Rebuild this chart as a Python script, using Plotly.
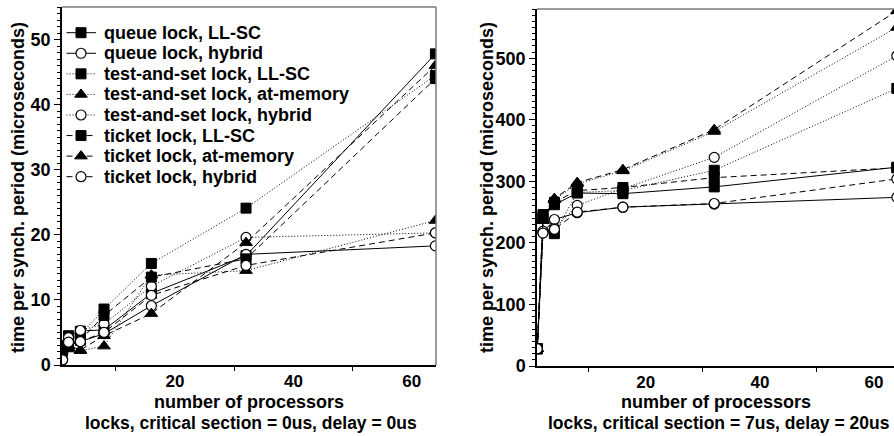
import plotly.graph_objects as go

W, H = 894, 436

procs = [1, 2, 4, 8, 16, 32, 64]

names = [
    "queue lock, LL-SC",
    "queue lock, hybrid",
    "test-and-set lock, LL-SC",
    "test-and-set lock, at-memory",
    "test-and-set lock, hybrid",
    "ticket lock, LL-SC",
    "ticket lock, at-memory",
    "ticket lock, hybrid",
]

# left panel: critical section = 0us, delay = 0us
left_queue_llsc = [2.5, 4.5, 5.2, 5.4, 11.0, 16.8, 47.8]
left_queue_hyb = [0.8, 3.4, 3.6, 4.8, 9.1, 17.0, 18.3]
left_tas_llsc = [2.3, 4.0, 4.6, 8.6, 15.6, 24.1, 44.5]
left_tas_atm = [3.0, 2.6, 2.2, 2.9, 13.8, 14.5, 22.2]
left_tas_hyb = [0.9, 4.2, 5.3, 6.3, 12.1, 19.6, 20.3]
left_ticket_llsc = [2.2, 2.8, 3.8, 7.6, 13.5, 16.3, 44.0]
left_ticket_atm = [2.8, 3.0, 2.3, 4.5, 7.9, 18.8, 46.0]
left_ticket_hyb = [0.8, 3.5, 3.6, 5.0, 10.7, 15.3, 20.3]

# right panel: critical section = 7us, delay = 20us
right_queue_llsc = [28, 242, 262, 281, 280, 291, 323]
right_queue_hyb = [28, 217, 238, 249, 258, 263, 274]
right_tas_llsc = [28, 246, 215, 282, 285, 318, 451]
right_tas_atm = [28, 236, 270, 296, 317, 381, 550]
right_tas_hyb = [28, 219, 223, 261, 288, 339, 504]
right_ticket_llsc = [28, 240, 266, 285, 290, 306, 322]
right_ticket_atm = [28, 238, 272, 298, 319, 384, 577]
right_ticket_hyb = [28, 216, 222, 250, 258, 264, 304]

left_series = [left_queue_llsc, left_queue_hyb, left_tas_llsc, left_tas_atm,
               left_tas_hyb, left_ticket_llsc, left_ticket_atm, left_ticket_hyb]
right_series = [right_queue_llsc, right_queue_hyb, right_tas_llsc, right_tas_atm,
                right_tas_hyb, right_ticket_llsc, right_ticket_atm, right_ticket_hyb]

SOLID, DOT, DASH = "solid", "1px,2px", "6px,4px"
dashes = [SOLID, SOLID, DOT, DOT, DOT, DASH, DASH, DASH]
SQ = dict(symbol="square", size=10, color="black", line=dict(color="black", width=1))
TR = dict(symbol="triangle-up", size=11, color="black", line=dict(color="black", width=1))
CI = dict(symbol="circle", size=10, color="white", line=dict(color="black", width=1.2))
markers = [SQ, CI, SQ, TR, CI, SQ, TR, CI]

FONT = "Liberation Sans, Arial, Helvetica, sans-serif"

fig = go.Figure()
for i in range(8):
    fig.add_trace(go.Scatter(
        x=procs, y=left_series[i], name=names[i], mode="lines+markers",
        line=dict(color="black", width=1, dash=dashes[i]),
        marker=markers[i], xaxis="x", yaxis="y", showlegend=False))
for i in range(8):
    fig.add_trace(go.Scatter(
        x=procs, y=right_series[i], name=names[i], mode="lines+markers",
        line=dict(color="black", width=1, dash=dashes[i]),
        marker=markers[i], xaxis="x2", yaxis="y2", showlegend=False))

# legend keys, drawn on a hidden pixel-space overlay axis pair
LEG_X0, LEG_XM, LEG_X1 = 66.5, 81, 96
LEG_Y0, LEG_DY = 32.7, 20.57
for i in range(8):
    yy = LEG_Y0 + i * LEG_DY
    fig.add_trace(go.Scatter(
        x=[LEG_X0, LEG_X1], y=[yy, yy], mode="lines",
        line=dict(color="black", width=1, dash=dashes[i]),
        xaxis="x3", yaxis="y3", showlegend=False, hoverinfo="skip", cliponaxis=False))
    fig.add_trace(go.Scatter(
        x=[LEG_XM], y=[yy], mode="markers", marker=markers[i],
        xaxis="x3", yaxis="y3", showlegend=False, hoverinfo="skip", cliponaxis=False))

def px(x):
    return x / W

def py(y):
    return 1 - y / H

xtickfont = dict(family=FONT, size=17, color="black", weight=700)
ytickfont = dict(family=FONT, size=18, color="black", weight=700)

xcommon = dict(
    automargin=False,
    showgrid=False, zeroline=False, showline=True, linecolor="black", linewidth=1.5,
    tickmode="linear", tick0=0, dtick=20, ticks="outside", ticklen=0,
    tickfont=xtickfont,
    minor=dict(tickmode="linear", tick0=0, dtick=10, ticks="outside", ticklen=4,
               tickcolor="black", tickwidth=1),
)
ycommon = dict(
    automargin=False,
    showgrid=False, zeroline=False, showline=True, linecolor="black", linewidth=1.5,
    ticks="outside", ticklen=6, tickcolor="black", tickwidth=1.2, tickfont=ytickfont,
    tickmode="linear", tick0=0,
)

fig.update_layout(
    width=W, height=H,
    margin=dict(l=0, r=0, t=0, b=0, autoexpand=False),
    paper_bgcolor="white", plot_bgcolor="rgba(0,0,0,0)",
    xaxis=dict(domain=[px(62), px(436)], range=[0.9, 64.1], anchor="y", **xcommon),
    yaxis=dict(domain=[py(365), py(7)], range=[0, 55], anchor="x", dtick=10,
               minor=dict(tickmode="linear", tick0=0, dtick=1, ticks="outside",
                          ticklen=3, tickcolor="black", tickwidth=1),
               **ycommon),
    xaxis2=dict(domain=[px(537), 1.0], range=[0.95, 63.5], anchor="y2", **xcommon),
    yaxis2=dict(domain=[py(366), py(9)], range=[0, 580], anchor="x2", dtick=100,
                minor=dict(tickmode="linear", tick0=0, dtick=10, ticks="outside",
                           ticklen=3, tickcolor="black", tickwidth=1),
                **ycommon),
    xaxis3=dict(domain=[0, 1], range=[0, W], anchor="y3", visible=False,
                automargin=False, fixedrange=True),
    yaxis3=dict(domain=[0, 1], range=[H, 0], anchor="x3", visible=False,
                automargin=False, fixedrange=True),
    showlegend=False,
)

# gray frame lines (top/right)
GRAY = "#7a7a7a"
fig.add_shape(type="line", xref="x domain", yref="y domain", x0=0, x1=1, y0=1, y1=1,
              line=dict(color=GRAY, width=1.5))
fig.add_shape(type="line", xref="x domain", yref="y domain", x0=1, x1=1, y0=0, y1=1,
              line=dict(color=GRAY, width=1.5))
fig.add_shape(type="line", xref="x2 domain", yref="y2 domain", x0=0, x1=1, y0=1, y1=1,
              line=dict(color=GRAY, width=1.5))

# legend labels
legfont = dict(family=FONT, size=18, color="black", weight=700)
for i in range(8):
    fig.add_annotation(text=names[i], xref="paper", yref="paper",
                       x=px(101.5), y=py(LEG_Y0 + i * LEG_DY), showarrow=False,
                       xanchor="left", yanchor="middle", font=legfont)

titlefont = dict(family=FONT, size=18, color="black", weight=700)
subfont = dict(family=FONT, size=17.5, color="black", weight=700)
ann = [
    dict(text="number of processors", x=px(249), y=py(402), font=titlefont),
    dict(text="locks, critical section = 0us, delay = 0us", x=px(251), y=py(422.5), font=subfont),
    dict(text="number of processors", x=px(716), y=py(402), font=titlefont),
    dict(text="locks, critical section = 7us, delay = 20us", x=px(719), y=py(422.5), font=subfont),
]
for a in ann:
    fig.add_annotation(xref="paper", yref="paper", showarrow=False,
                       xanchor="center", yanchor="middle", **a)
for xc in (18, 487):
    fig.add_annotation(text="time per synch. period (microseconds)", xref="paper", yref="paper",
                       x=px(xc), y=py(188), showarrow=False, textangle=-90,
                       xanchor="center", yanchor="middle", font=titlefont)

fig.write_html("out.html")
